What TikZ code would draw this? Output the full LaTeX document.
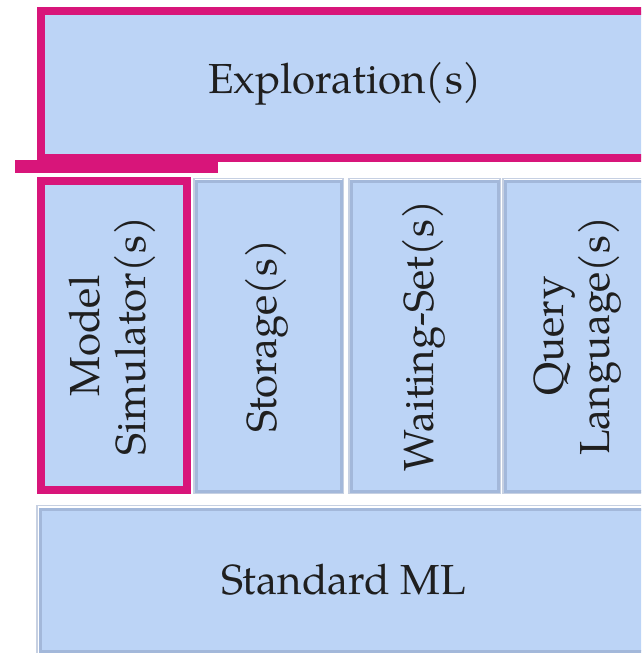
\documentclass[tikz,border=0pt]{standalone}
\usepackage{fontspec}
\setmainfont{TeX Gyre Pagella}
\definecolor{layerfill}{HTML}{BCD4F6}
\definecolor{layeredge}{HTML}{A3B8DA}
\definecolor{layerhalo}{HTML}{C6D0E2}
\definecolor{accent}{HTML}{D8157A}
\tikzset{
  layer/.style={fill=layerfill, draw=layeredge, line width=3pt},
  focus/.style={fill=layerfill, draw=accent, line width=8pt},
  caption/.style={font=\fontsize{42}{46}\selectfont, text=black!88, align=center, inner sep=0pt},
  upright/.style={caption, rotate=90}
}
\begin{document}
\begin{tikzpicture}[x=1pt, y=-1pt]
  \useasboundingbox (0,0) rectangle (641,653);
  \clip (0,0) rectangle (641,653);

  % top layer, highlighted
  \draw[focus] (41,11) rectangle (720,158);
  \node[caption] (explore) at (345,84) {Exploration(s)};
  \fill[accent] (15,160) rectangle (218,173);

  % middle row of components
  \draw[layerhalo, line width=1.5pt] (194,178.5) rectangle (343,493);
  \draw[layer] (196.5,181) rectangle (341,491);
  \node[upright] (store) at (267,336) {Storage(s)};

  \draw[layerhalo, line width=1.5pt] (349,178.5) rectangle (500,493);
  \draw[layer] (351.5,181) rectangle (498,491);
  \node[upright] (wait) at (424,336) {Waiting-Set(s)};

  \draw[layerhalo, line width=1.5pt] (503,178.5) rectangle (720,493);
  \draw[layer] (505.5,181) rectangle (720,491);
  \node[upright] (query) at (578,336) {Query\\Language(s)};

  \draw[focus] (41,181) rectangle (187,490);
  \node[upright] (model) at (112,336) {Model\\Simulator(s)};

  % base layer
  \draw[layerhalo, line width=1.5pt] (37,505.5) rectangle (720,660);
  \draw[layer] (40.5,509) rectangle (720,651);
  \node[caption] (sml) at (344,580) {Standard ML};
\end{tikzpicture}
\end{document}
